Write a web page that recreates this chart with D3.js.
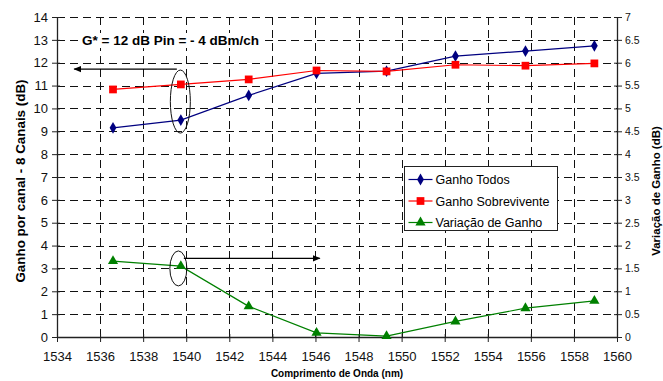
<!DOCTYPE html>
<html>
<head>
<meta charset="utf-8">
<script src="https://cdn.jsdelivr.net/npm/d3@7"></script>
<style>
  body { margin: 0; background: #fff; }
  svg { font-family: "Liberation Sans", Arial, sans-serif; }
</style>
</head>
<body>
<div id="chart"></div>
<script>

// comprimentos de onda dos 8 canais (nm)
var wavelengths = [1536.6, 1539.75, 1542.9, 1546.05, 1549.3, 1552.5, 1555.75, 1558.95];
var ganhoTodos = [9.15, 9.49, 10.57, 11.53, 11.63, 12.29, 12.51, 12.74];
var ganhoSobrevivente = [10.83, 11.05, 11.27, 11.66, 11.62, 11.91, 11.87, 11.97];
var variacaoGanho = [1.66, 1.55, 0.67, 0.09, 0.02, 0.34, 0.63, 0.79];

var xTickValues = d3.range(1534, 1561, 2);
var yLeftTicks = d3.range(0, 15, 1);
var yRightTicks = d3.range(0, 7.01, 0.5);

var width = 663, height = 381;
var plotLeft = 57, plotRight = 617, plotTop = 17, plotBottom = 337;

var svg = d3.select('#chart')
    .append('svg')
        .attr('width', width)
        .attr('height', height);

var x = d3.scaleLinear().domain([1534, 1560]).range([plotLeft, plotRight]);
var yL = d3.scaleLinear().domain([0, 14]).range([plotBottom, plotTop]);
var yR = d3.scaleLinear().domain([0, 7]).range([plotBottom, plotTop]);

/** grade tracejada */
var grid = svg.append('g');
grid.selectAll('.hg')
    .data(yLeftTicks.filter(function(d) { return d > 0; }))
    .enter().append('line')
        .attr('x1', plotLeft).attr('x2', plotRight)
        .attr('y1', function(d) { return Math.round(yL(d)) + 0.5; })
        .attr('y2', function(d) { return Math.round(yL(d)) + 0.5; })
        .attr('stroke', '#111')
        .attr('stroke-dasharray', '8,5');
grid.selectAll('.vg')
    .data(xTickValues.filter(function(d) { return d > 1534 && d < 1560; }))
    .enter().append('line')
        .attr('x1', function(d) { return Math.round(x(d)) + 0.5; })
        .attr('x2', function(d) { return Math.round(x(d)) + 0.5; })
        .attr('y1', plotTop).attr('y2', plotBottom)
        .attr('stroke', '#111')
        .attr('stroke-dasharray', '8,5');

/** eixos */
var xAxis = d3.axisBottom(x).tickValues(xTickValues).tickSizeInner(5).tickSizeOuter(0).tickPadding(10)
    .tickFormat(d3.format('d'));
var gx = svg.append('g')
    .attr('transform', 'translate(0,' + plotBottom + ')')
    .call(xAxis);
gx.selectAll('.tick line').attr('y1', -3);

var yAxisL = d3.axisLeft(yL).tickValues(yLeftTicks).tickSizeInner(5).tickSizeOuter(0).tickPadding(4);
var gyl = svg.append('g')
    .attr('transform', 'translate(' + plotLeft + ',0)')
    .call(yAxisL);
gyl.selectAll('.tick line').attr('x1', 3);

var yAxisR = d3.axisRight(yR).tickValues(yRightTicks).tickSizeInner(5).tickSizeOuter(0).tickPadding(3)
    .tickFormat(function(d) { return String(d); });
var gyr = svg.append('g')
    .attr('transform', 'translate(' + plotRight + ',0)')
    .call(yAxisR);
gyr.selectAll('.tick line').attr('x1', -3);

svg.selectAll('.domain').attr('stroke', '#222').attr('stroke-width', 1.3);
svg.selectAll('.tick line').attr('stroke', '#222');
gx.selectAll('text').attr('font-size', 13).attr('fill', '#111');
gyl.selectAll('text').attr('font-size', 13).attr('fill', '#111');
gyr.selectAll('text').attr('font-size', 10.5).attr('fill', '#111');

/** títulos dos eixos */
svg.append('text')
    .attr('x', (plotLeft + plotRight) / 2).attr('y', 377)
    .attr('text-anchor', 'middle')
    .attr('font-size', 10).attr('font-weight', 'bold')
    .text('Comprimento de Onda (nm)');
svg.append('text')
    .attr('transform', 'translate(25,181) rotate(-90)')
    .attr('text-anchor', 'middle')
    .attr('font-size', 13.4).attr('font-weight', 'bold')
    .text('Ganho por canal - 8 Canais (dB)');
svg.append('text')
    .attr('transform', 'translate(660,191) rotate(-90)')
    .attr('text-anchor', 'middle')
    .attr('font-size', 11.5).attr('font-weight', 'bold')
    .text('Variação de Ganho (dB)');

/** séries */
var series = [
    { name: 'Ganho Todos', values: ganhoTodos, y: yL, color: '#000080', symbol: d3.symbolDiamond, size: 40 },
    { name: 'Ganho Sobrevivente', values: ganhoSobrevivente, y: yL, color: '#ff0000', symbol: d3.symbolSquare, size: 60 },
    { name: 'Variação de Ganho', values: variacaoGanho, y: yR, color: '#008000', symbol: d3.symbolTriangle, size: 45 }
];

series.forEach(function(s) {
    var line = d3.line()
        .x(function(d, i) { return x(wavelengths[i]); })
        .y(function(d) { return s.y(d); });
    svg.append('path')
        .datum(s.values)
        .attr('fill', 'none')
        .attr('stroke', s.color)
        .attr('stroke-width', 1.2)
        .attr('d', line);
    svg.selectAll(null)
        .data(s.values)
        .enter().append('path')
            .attr('transform', function(d, i) {
                return 'translate(' + x(wavelengths[i]) + ',' + s.y(d) + ')';
            })
            .attr('d', d3.symbol().type(s.symbol).size(s.size))
            .attr('fill', s.color);
});

/** anotações: elipses e setas */
svg.append('defs').append('marker')
    .attr('id', 'arrow')
    .attr('viewBox', '0 0 10 10')
    .attr('refX', 9).attr('refY', 5)
    .attr('markerWidth', 8).attr('markerHeight', 8)
    .attr('markerUnits', 'userSpaceOnUse')
    .attr('orient', 'auto')
    .append('path')
        .attr('d', 'M0,1 L10,5 L0,9 Z')
        .attr('fill', '#000');

svg.append('ellipse')
    .attr('cx', x(wavelengths[1]) - 0.5).attr('cy', yL(10.3))
    .attr('rx', 10).attr('ry', 31.5)
    .attr('fill', 'none').attr('stroke', '#111').attr('stroke-width', 1);
svg.append('line')
    .attr('x1', x(wavelengths[1]) - 4).attr('y1', yL(11.72))
    .attr('x2', x(1534.8)).attr('y2', yL(11.72))
    .attr('stroke', '#000').attr('stroke-width', 1.2)
    .attr('marker-end', 'url(#arrow)');

svg.append('ellipse')
    .attr('cx', x(wavelengths[1]) - 2.5).attr('cy', yR(1.5))
    .attr('rx', 8.5).attr('ry', 17.5)
    .attr('fill', 'none').attr('stroke', '#111').attr('stroke-width', 1);
svg.append('line')
    .attr('x1', x(wavelengths[1]) + 3).attr('y1', yR(1.72))
    .attr('x2', x(1546.2)).attr('y2', yR(1.72))
    .attr('stroke', '#000').attr('stroke-width', 1.2)
    .attr('marker-end', 'url(#arrow)');

var note = svg.append('g');
var noteText = note.append('text')
    .attr('x', 82).attr('y', 45)
    .attr('font-size', 13.5).attr('font-weight', 'bold')
    .text('G* = 12 dB Pin = - 4 dBm/ch');
var bb = noteText.node().getBBox();
note.insert('rect', 'text')
    .attr('x', bb.x - 2).attr('y', bb.y)
    .attr('width', bb.width + 4).attr('height', bb.height)
    .attr('fill', '#fff');

/** legenda */
var legend = svg.append('g').attr('transform', 'translate(404.5,166.5)');
legend.append('rect')
    .attr('width', 153).attr('height', 64)
    .attr('fill', '#fff').attr('stroke', '#222');
series.forEach(function(s, i) {
    var yy = 13 + i * 21.5;
    legend.append('line')
        .attr('x1', 4).attr('x2', 28).attr('y1', yy).attr('y2', yy)
        .attr('stroke', s.color).attr('stroke-width', 1.2);
    legend.append('path')
        .attr('transform', 'translate(16,' + yy + ')')
        .attr('d', d3.symbol().type(s.symbol).size(s.size))
        .attr('fill', s.color);
    legend.append('text')
        .attr('x', 31).attr('y', yy + 4.5)
        .attr('font-size', 12.5)
        .text(s.name);
});

</script>
</body>
</html>
